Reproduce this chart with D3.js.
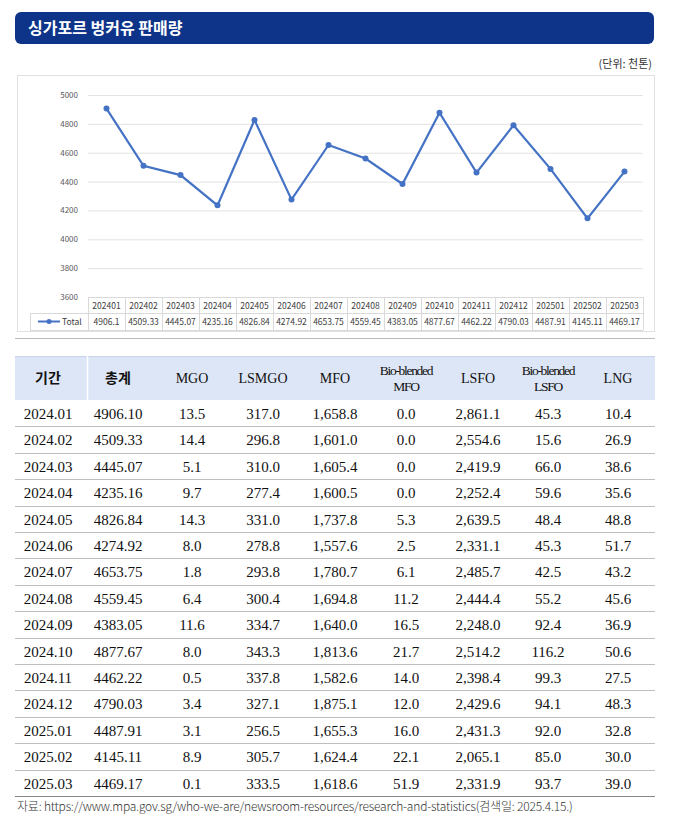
<!DOCTYPE html>
<html><head><meta charset="utf-8">
<script src="https://cdn.jsdelivr.net/npm/d3@7"></script>
<style>body{margin:0;background:#fff}svg{display:block}</style>
</head><body>
<script>
// Singapore bunker sales chart + table
var months = ["202401","202402","202403","202404","202405","202406","202407","202408","202409","202410","202411","202412","202501","202502","202503"];
var totals = [4906.1,4509.33,4445.07,4235.16,4826.84,4274.92,4653.75,4559.45,4383.05,4877.67,4462.22,4790.03,4487.91,4145.11,4469.17];
var totalLabels = ["4906.1","4509.33","4445.07","4235.16","4826.84","4274.92","4653.75","4559.45","4383.05","4877.67","4462.22","4790.03","4487.91","4145.11","4469.17"];
var yTicks = [3600,3800,4000,4200,4400,4600,4800,5000];
var headers = [["기간"],["총계"],["MGO"],["LSMGO"],["MFO"],["Bio-blended","MFO"],["LSFO"],["Bio-blended","LSFO"],["LNG"]];
var periods = ["2024.01","2024.02","2024.03","2024.04","2024.05","2024.06","2024.07","2024.08","2024.09","2024.10","2024.11","2024.12","2025.01","2025.02","2025.03"];
var totalText = ["4906.10","4509.33","4445.07","4235.16","4826.84","4274.92","4653.75","4559.45","4383.05","4877.67","4462.22","4790.03","4487.91","4145.11","4469.17"];
var mgo = ["13.5","14.4","5.1","9.7","14.3","8.0","1.8","6.4","11.6","8.0","0.5","3.4","3.1","8.9","0.1"];
var lsmgo = ["317.0","296.8","310.0","277.4","331.0","278.8","293.8","300.4","334.7","343.3","337.8","327.1","256.5","305.7","333.5"];
var mfo = ["1,658.8","1,601.0","1,605.4","1,600.5","1,737.8","1,557.6","1,780.7","1,694.8","1,640.0","1,813.6","1,582.6","1,875.1","1,655.3","1,624.4","1,618.6"];
var bioMfo = ["0.0","0.0","0.0","0.0","5.3","2.5","6.1","11.2","16.5","21.7","14.0","12.0","16.0","22.1","51.9"];
var lsfo = ["2,861.1","2,554.6","2,419.9","2,252.4","2,639.5","2,331.1","2,485.7","2,444.4","2,248.0","2,514.2","2,398.4","2,429.6","2,431.3","2,065.1","2,331.9"];
var bioLsfo = ["45.3","15.6","66.0","59.6","48.4","45.3","42.5","55.2","92.4","116.2","99.3","94.1","92.0","85.0","93.7"];
var lng = ["10.4","26.9","38.6","35.6","48.8","51.7","43.2","45.6","36.9","50.6","27.5","48.3","32.8","30.0","39.0"];

var svg = d3.select("body").append("svg").attr("width",675).attr("height",830);
var sans = "'Noto Sans CJK KR', 'Noto Sans', sans-serif";
var serif = "'Liberation Serif', 'DejaVu Serif', serif";

// title bar
svg.append("rect").attr("x",15).attr("y",12).attr("width",639).attr("height",32).attr("rx",6).attr("fill","#0d3488");
svg.append("text").attr("x",28).attr("y",34).attr("fill","#fff").attr("font-family",sans).attr("font-size",16).attr("font-weight",700).text("싱가포르 벙커유 판매량");
svg.append("text").attr("x",652).attr("y",68).attr("text-anchor","end").attr("font-family",sans).attr("font-size",11).attr("fill","#333").text("(단위: 천톤)");

// chart frame
svg.append("rect").attr("x",17.5).attr("y",75.5).attr("width",637).attr("height",256).attr("fill","#fff").attr("stroke","#e0e0e0");
svg.append("line").attr("x1",15).attr("x2",655).attr("y1",338.5).attr("y2",338.5).attr("stroke","#bbb");

var x0 = 88, colW = 37;
var x = d3.scaleBand().domain(months).range([x0, x0 + colW*15]);
var y = d3.scaleLinear().domain([3600,5000]).range([297,95]);

var g = svg.append("g");
g.selectAll(".grid").data(yTicks).join("line")
  .attr("x1",x0).attr("x2",x0+colW*15).attr("y1",d=>y(d)+.5).attr("y2",d=>y(d)+.5)
  .attr("stroke","#e3e3e3");
g.selectAll(".yt").data(yTicks).join("text")
  .attr("x",78).attr("y",d=>y(d)+3).attr("text-anchor","end")
  .attr("font-family",sans).attr("font-size",8).attr("fill","#595959").text(d=>d);

var line = d3.line().x((d,i)=>x(months[i])+x.bandwidth()/2).y(d=>y(d));
g.append("path").datum(totals).attr("d",line).attr("fill","none").attr("stroke","#4472c4").attr("stroke-width",2.2);
g.selectAll("circle").data(totals).join("circle")
  .attr("cx",(d,i)=>x(months[i])+x.bandwidth()/2).attr("cy",d=>y(d)).attr("r",3).attr("fill","#4472c4");

// data table under chart
var dt = svg.append("g").attr("font-family",sans).attr("font-size",8.5).attr("fill","#404040");
var dtY = [297,313,330];
dt.selectAll(".h").data(dtY).join("line").attr("x1",(d,i)=>i==0?x0:30).attr("x2",x0+colW*15)
  .attr("y1",d=>d+.5).attr("y2",d=>d+.5).attr("stroke","#d9d9d9");
d3.range(16).forEach(function(i){
  dt.append("line").attr("x1",x0+colW*i+.5).attr("x2",x0+colW*i+.5).attr("y1",297).attr("y2",330).attr("stroke","#d9d9d9");
});
dt.append("line").attr("x1",30.5).attr("x2",30.5).attr("y1",313).attr("y2",330).attr("stroke","#d9d9d9");
dt.selectAll(".m").data(months).join("text").attr("x",d=>x(d)+x.bandwidth()/2).attr("y",308.5).attr("text-anchor","middle").text(d=>d);
dt.selectAll(".v").data(totalLabels).join("text").attr("x",(d,i)=>x(months[i])+x.bandwidth()/2).attr("y",325).attr("text-anchor","middle").text(d=>d);
dt.append("line").attr("x1",38).attr("x2",60).attr("y1",321.5).attr("y2",321.5).attr("stroke","#4472c4").attr("stroke-width",2);
dt.append("circle").attr("cx",49).attr("cy",321.5).attr("r",2.5).attr("fill","#4472c4");
dt.append("text").attr("x",62).attr("y",325).text("Total");

// main table
var colX = [48,118,192,263,335,406,478,548,618];
var hTop = 356, hH = 44, rowH = 26.4;
svg.append("rect").attr("x",15).attr("y",hTop).attr("width",640).attr("height",hH).attr("fill","#dde6f6");
svg.append("line").attr("x1",15).attr("x2",655).attr("y1",hTop+.5).attr("y2",hTop+.5).attr("stroke","#c8d2e8");
svg.append("line").attr("x1",87.5).attr("x2",87.5).attr("y1",hTop).attr("y2",hTop+hH).attr("stroke","#fff").attr("stroke-width",1.5);
var hg = svg.append("g").attr("font-family",serif).attr("fill","#111");
headers.forEach(function(h,i){
  var t = hg.append("text").attr("x",colX[i]).attr("text-anchor","middle");
  if(h.length==1){
    t.attr("y",hTop+27).attr("font-size",14).attr("font-family",i<2?sans:serif).attr("font-weight",i<2?700:400).text(h[0]);
  } else {
    t.attr("font-size",13.5).attr("letter-spacing",-1.3);
    t.append("tspan").attr("x",colX[i]).attr("y",hTop+19).text(h[0]);
    t.append("tspan").attr("x",colX[i]).attr("y",hTop+35).text(h[1]);
  }
});
var cols = [periods,totalText,mgo,lsmgo,mfo,bioMfo,lsfo,bioLsfo,lng];
var tb = svg.append("g").attr("font-family",serif).attr("font-size",15).attr("fill","#111");
periods.forEach(function(p,r){
  var ry = hTop+hH+rowH*r;
  cols.forEach(function(c,i){
    tb.append("text").attr("x",colX[i]).attr("y",ry+19).attr("text-anchor","middle").text(c[r]);
  });
  tb.append("line").attr("x1",15).attr("x2",655).attr("y1",Math.round(ry+rowH)+.5).attr("y2",Math.round(ry+rowH)+.5)
    .attr("stroke",r==periods.length-1?"#888":"#bdbdbd");
});

svg.append("text").attr("x",17).attr("y",811).attr("font-family",sans).attr("font-size",12).attr("font-weight",300).attr("fill","#333")
  .attr("letter-spacing",-0.2)
  .text("자료: https://www.mpa.gov.sg/who-we-are/newsroom-resources/research-and-statistics(검색일: 2025.4.15.)");
</script>
</body></html>
